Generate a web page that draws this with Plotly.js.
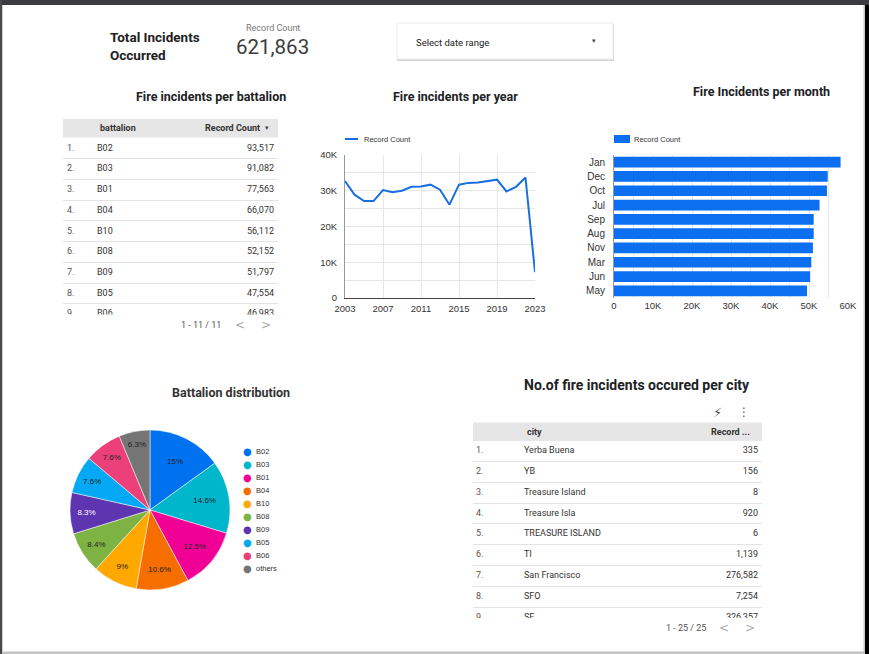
<!DOCTYPE html>
<html><head><meta charset="utf-8">
<script src="https://cdn.plot.ly/plotly-3.0.1.min.js"></script>
<style>html,body{margin:0;padding:0;background:#fff;overflow:hidden}#chart{width:869px;height:654px}</style>
</head><body><div id="chart"></div>
<script>
// ---------- data ----------
const years = [2003,2004,2005,2006,2007,2008,2009,2010,2011,2012,2013,2014,2015,2016,2017,2018,2019,2020,2021,2022,2023];
const yearCounts = [32700,28900,27100,27100,30200,29600,30000,31100,31200,31700,30300,26100,31700,32200,32300,32600,33100,29800,31100,33700,7200];
const yearTicks = [2003,2007,2011,2015,2019,2023];
const countTicks = [0,10000,20000,30000,40000];
const countTickText = ['0','10K','20K','30K','40K'];

const months = ['Jan','Dec','Oct','Jul','Sep','Aug','Nov','Mar','Jun','May'];
const monthCounts = [58100,54800,54600,52700,51200,51200,51000,50600,50300,49500];
const monthTicks = [0,10000,20000,30000,40000,50000,60000];
const monthTickText = ['0','10K','20K','30K','40K','50K','60K'];

const battalions = ['B02','B03','B01','B04','B10','B08','B09','B05','B06'];
const battalionCounts = [93517,91082,77563,66070,56112,52152,51797,47554,46983];

const pieLabels = ['B02','B03','B01','B04','B10','B08','B09','B05','B06','others'];
const pieValues = [93517,91082,77563,66070,56112,52152,51797,47554,46983,39033];
const pieColors = ['#0072f0','#00b6cb','#f10096','#f66d00','#ffa800','#7cb342','#5e35b1','#03a9f4','#ec407a','#757575'];

const cities = ['Yerba Buena','YB','Treasure Island','Treasure Isla','TREASURE ISLAND','TI','San Francisco','SFO','SF'];
const cityCounts = [335,156,8,920,6,1139,276582,7254,326357];

const totalIncidents = 621863;
const seriesName = 'Record Count';

// ---------- helpers ----------
const W = 869, H = 654;
const px = x => x / W;
const py = y => 1 - y / H;
const fmt = v => v.toLocaleString('en-US');
const TXT = '#333333';
const AX = {family:'Arial, Liberation Sans, sans-serif', size:9.5, color:'#333'};
const LINE_C = '#1a6fe0', BAR_C = '#0c6ff0';

const traces = [];
const annotations = [];
const shapes = [];

// line chart
traces.push({
  type:'scatter', mode:'lines', x:years, y:yearCounts, name:seriesName,
  line:{color:LINE_C, width:2}, xaxis:'x', yaxis:'y', showlegend:false, hoverinfo:'skip'
});
// bar chart
traces.push({
  type:'bar', orientation:'h', x:monthCounts, y:months, name:seriesName,
  marker:{color:BAR_C}, xaxis:'x2', yaxis:'y2', showlegend:false, hoverinfo:'skip'
});
// pie
const pieTotal = pieValues.reduce((a,b)=>a+b,0);
const pieText = pieValues.map(v => (v/pieTotal*100).toFixed(1).replace(/\.0$/,'') + '%');
traces.push({
  type:'pie', labels:pieLabels, values:pieValues, text:pieText, textinfo:'text',
  sort:false, direction:'clockwise', rotation:0,
  marker:{colors:pieColors, line:{color:'#ffffff', width:0.5}},
  textposition:'inside', insidetextorientation:'horizontal',
  textfont:{size:8, family:'Arial, sans-serif', color:pieColors.map((c,i)=> i===6 ? '#ffffff' : '#222222')},
  domain:{x:[px(70),px(230)], y:[py(590),py(430)]}, showlegend:false, hoverinfo:'skip'
});

// tables as text scatter on their own axes
function buildTable(ax, ay, idxX, nameX, valX, names, values) {
  const rows = names.map((_,i)=>i+1);
  const f = {size:9, color:TXT, family:'Roboto, sans-serif'};
  traces.push({type:'scatter', mode:'text', x:rows.map(()=>idxX), y:rows, text:rows.map(r=>r+'.'),
    textposition:'middle right', textfont:Object.assign({}, f, {color:'#555'}),
    xaxis:ax, yaxis:ay, showlegend:false, hoverinfo:'skip', cliponaxis:true});
  traces.push({type:'scatter', mode:'text', x:rows.map(()=>nameX), y:rows, text:names,
    textposition:'middle right', textfont:f,
    xaxis:ax, yaxis:ay, showlegend:false, hoverinfo:'skip', cliponaxis:true});
  traces.push({type:'scatter', mode:'text', x:rows.map(()=>valX), y:rows, text:values.map(fmt),
    textposition:'middle left', textfont:f,
    xaxis:ax, yaxis:ay, showlegend:false, hoverinfo:'skip', cliponaxis:true});
}
buildTable('x3','y3', 4, 34, 211, battalions, battalionCounts);
buildTable('x4','y4', 3, 51, 285, cities, cityCounts);

function tableAxes(x0, x1, yTop, yBot, rowC, step) {
  const top = 1 - (rowC - yTop)/step;
  const bot = 1 + (yBot - rowC)/step;
  return {
    x:{domain:[px(x0),px(x1)], range:[0, x1-x0], visible:false, fixedrange:true},
    y:{domain:[py(yBot),py(yTop)], range:[bot, top], showgrid:true, gridcolor:'#e3e3e3', gridwidth:1,
       tickvals:[1.5,2.5,3.5,4.5,5.5,6.5,7.5,8.5], showticklabels:false, ticks:'', zeroline:false, showline:false}
  };
}
const t1 = tableAxes(63, 278, 119, 314.5, 148.5, 20.7);
const t2 = tableAxes(473, 762, 422.5, 618, 451, 20.8);

// header bands
shapes.push({type:'rect', xref:'paper', yref:'paper', x0:px(63), x1:px(278), y0:py(137.5), y1:py(119), fillcolor:'#e6e6e6', line:{width:0}, layer:'below'});
shapes.push({type:'rect', xref:'paper', yref:'paper', x0:px(473), x1:px(762), y0:py(441), y1:py(422.5), fillcolor:'#e6e6e6', line:{width:0}, layer:'below'});

// frame
shapes.push({type:'rect', xref:'paper', yref:'paper', x0:0, x1:1, y0:py(5), y1:1, fillcolor:'#3b3b40', line:{width:0}});
shapes.push({type:'rect', xref:'paper', yref:'paper', x0:0, x1:px(2), y0:0, y1:1, fillcolor:'#4a4a4e', line:{width:0}});
shapes.push({type:'rect', xref:'paper', yref:'paper', x0:px(2), x1:px(3), y0:0, y1:py(5), fillcolor:'#d0d0d0', line:{width:0}});
shapes.push({type:'rect', xref:'paper', yref:'paper', x0:px(865), x1:1, y0:0, y1:py(5), fillcolor:'#000000', line:{width:0}});
shapes.push({type:'rect', xref:'paper', yref:'paper', x0:px(863.5), x1:px(865), y0:0, y1:py(5), fillcolor:'#c8c8c8', line:{width:0}});
shapes.push({type:'rect', xref:'paper', yref:'paper', x0:px(2), x1:px(865), y0:0, y1:py(651.5), fillcolor:'#c4c4c4', line:{width:0}});

// date range box with shadow
shapes.push({type:'rect', xref:'paper', yref:'paper', x0:px(397), x1:px(614), y0:py(61), y1:py(24), fillcolor:'#d6d6d6', line:{width:0}});
shapes.push({type:'rect', xref:'paper', yref:'paper', x0:px(397), x1:px(613), y0:py(59), y1:py(23), fillcolor:'#ffffff', line:{color:'#ececec', width:1}});

// legend keys (line chart / bar chart)
shapes.push({type:'line', xref:'paper', yref:'paper', x0:px(345), x1:px(358), y0:py(139), y1:py(139), line:{color:LINE_C, width:2}});
shapes.push({type:'rect', xref:'paper', yref:'paper', x0:px(614), x1:px(630), y0:py(143), y1:py(135), fillcolor:BAR_C, line:{width:0}});

function ann(x, y, text, size, opts) {
  annotations.push(Object.assign({xref:'paper', yref:'paper', x:px(x), y:py(y), text:text, showarrow:false,
    font:{size:size, color:TXT, family:'Roboto, sans-serif'}, xanchor:'center', yanchor:'middle'}, opts||{}));
}
const legFont = {size:7.5, color:'#333', family:'Arial, sans-serif'};
ann(362, 139, seriesName, 7.5, {xanchor:'left', font:legFont});
ann(632, 139, seriesName, 7.5, {xanchor:'left', font:legFont});

// header
ann(108, 46, '<b>Total Incidents</b><br><b>Occurred</b>', 13.5, {xanchor:'left', align:'left', font:{size:13.5, color:'#202124', family:'Roboto, sans-serif'}});
ann(273, 28, 'Record Count', 9, {font:{size:9, color:'#777', family:'Roboto, sans-serif'}});
ann(272, 47, fmt(totalIncidents), 20, {font:{size:20.5, color:'#3c3c3c', family:'Roboto, sans-serif'}});
ann(414, 42, 'Select date range', 9.5, {xanchor:'left', font:{size:9.5, color:'#222', family:'Roboto, sans-serif'}});
ann(594, 41, '▾', 7, {font:{size:7, color:'#444', family:'DejaVu Sans'}});

// titles
const titleFont = {size:12.5, color:'#202124', family:'Roboto, sans-serif'};
ann(211, 96, '<b>Fire incidents per battalion</b>', 12.5, {font:titleFont});
ann(455, 96, '<b>Fire incidents per year</b>', 12.5, {font:titleFont});
ann(761, 92, '<b>Fire Incidents per month</b>', 12.5, {font:titleFont});
ann(231, 392, '<b>Battalion distribution</b>', 12.5, {font:{size:12.5, color:'#333', family:'Roboto, sans-serif'}});
ann(637, 385, '<b>No.of fire incidents occured per city</b>', 14, {font:{size:14, color:'#202124', family:'Roboto, sans-serif'}});

// table headers
const hFont = {size:9, color:'#333', family:'Roboto, sans-serif'};
ann(98, 128, '<b>battalion</b>', 9, {xanchor:'left', font:hFont});
ann(262, 128, '<b>Record Count</b>', 9, {xanchor:'right', font:hFont});
ann(267, 128, '▾', 7, {font:{size:7, color:'#444', family:'DejaVu Sans'}});
ann(525, 432, '<b>city</b>', 9, {xanchor:'left', font:hFont});
ann(752, 432, '<b>Record ...</b>', 9, {xanchor:'right', font:hFont});

// pagination
const pgFont = {size:9, color:'#555', family:'Roboto, sans-serif'};
ann(201, 325, '1 - 11 / 11', 9, {font:pgFont});
ann(240, 325, '<', 12, {font:{size:12, color:'#aaa', family:'DejaVu Sans'}});
ann(266, 325, '>', 12, {font:{size:12, color:'#aaa', family:'DejaVu Sans'}});
ann(686, 628, '1 - 25 / 25', 9, {font:pgFont});
ann(724, 628, '<', 12, {font:{size:12, color:'#aaa', family:'DejaVu Sans'}});
ann(750, 628, '>', 12, {font:{size:12, color:'#aaa', family:'DejaVu Sans'}});

// icons
ann(717, 412, '⚡', 13, {font:{size:13, color:'#555', family:'DejaVu Sans'}});
ann(744, 412, '⋮', 12, {font:{size:12, color:'#555', family:'DejaVu Sans'}});

// pie legend
pieLabels.forEach((lab, i) => {
  const y = 451 + i*13.1;
  ann(247, y, '●', 10, {font:{size:10, color:pieColors[i], family:'DejaVu Sans'}});
  ann(254, y, lab, 7.5, {xanchor:'left', font:{size:7.5, color:'#333', family:'Arial, sans-serif'}});
});

const gridC = '#e6e6e6';
const layout = {
  width:W, height:H, margin:{l:0,r:0,t:0,b:0}, paper_bgcolor:'#ffffff', plot_bgcolor:'#ffffff',
  showlegend:false, font:{family:'Roboto, sans-serif', color:TXT},
  xaxis:{domain:[px(345),px(535)], range:[2003,2023], tickvals:yearTicks, ticktext:yearTicks.map(String),
    showgrid:true, gridcolor:gridC, zeroline:false, showline:true, linecolor:'#444', linewidth:1,
    ticks:'', tickfont:AX, ticklabelstandoff:2, fixedrange:true},
  yaxis:{domain:[py(298),py(155)], range:[0,40000], tickvals:countTicks, ticktext:countTickText,
    showgrid:true, gridcolor:gridC, minor:{dtick:5000, showgrid:true, gridcolor:gridC}, zeroline:false,
    showline:true, linecolor:'#999', ticks:'', tickfont:AX, ticklabelstandoff:5, fixedrange:true},
  xaxis2:{domain:[px(614),px(848)], range:[0,60000], tickvals:monthTicks, ticktext:monthTickText,
    showgrid:true, gridcolor:gridC, minor:{dtick:5000, showgrid:true, gridcolor:gridC}, zeroline:false,
    showline:false, ticks:'', tickfont:AX, anchor:'y2', fixedrange:true},
  yaxis2:{domain:[py(298),py(155)], autorange:'reversed', showgrid:false, zeroline:false,
    showline:true, linecolor:'#999', ticks:'', tickfont:{family:AX.family, size:10, color:'#333'}, anchor:'x2', ticklabelstandoff:6, fixedrange:true},
  bargap:0.25,
  xaxis3:Object.assign(t1.x, {anchor:'y3'}),
  yaxis3:Object.assign(t1.y, {anchor:'x3'}),
  xaxis4:Object.assign(t2.x, {anchor:'y4'}),
  yaxis4:Object.assign(t2.y, {anchor:'x4'}),
  annotations:annotations, shapes:shapes
};
Plotly.newPlot('chart', traces, layout, {displayModeBar:false, staticPlot:true});
</script>
</body></html>
